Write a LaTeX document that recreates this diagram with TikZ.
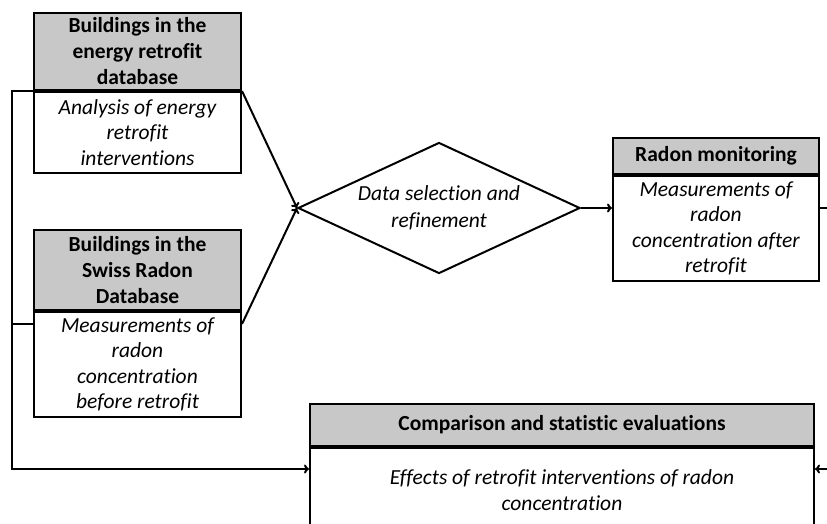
\documentclass[tikz,border=0pt]{standalone}
\usepackage{fontspec}
\setmainfont{Carlito}[Ligatures=NoCommon]
\usetikzlibrary{shapes.geometric,arrows.meta,calc}
\definecolor{hdrgray}{RGB}{200,200,200}
\begin{document}
\begin{tikzpicture}[x=1pt,y=-1pt,
  line width=2pt,
  hdr/.style={draw=black, fill=hdrgray, anchor=north west, inner sep=0pt, align=center,
    font=\bfseries\fontsize{21.5}{26}\selectfont},
  body/.style={draw=black, fill=white, anchor=north, inner sep=0pt, align=center,
    font=\itshape\fontsize{21.5}{25.5}\selectfont},
  decision/.style={draw=black, diamond, shape aspect=2.15, inner sep=0pt, align=center,
    minimum width=282pt, minimum height=131pt, font=\itshape\fontsize{21.5}{27}\selectfont},
  arr/.style={-{To[length=5pt,width=9pt]}},
  conn/.style={line width=2pt}]
\useasboundingbox (0,0) rectangle (827,524);
\clip (0,0) rectangle (827,524);
% box 1
\node[hdr, minimum width=207pt, minimum height=77pt] (h1) at (33,12) {Buildings in the\\energy retrofit\\database};
\node[body, minimum width=207pt, minimum height=81pt] (b1) at (h1.south) {Analysis of energy\\retrofit\\interventions};
% box 2
\node[hdr, minimum width=207pt, minimum height=80pt] (h2) at (33,229) {Buildings in the\\Swiss Radon\\Database};
\node[body, minimum width=207pt, minimum height=105pt] (b2) at (h2.south) {Measurements of\\radon\\concentration\\before retrofit};
% decision
\node[decision] (d) at (439,208) {Data selection and\\refinement};
% radon monitoring
\node[hdr, minimum width=206pt, minimum height=36pt] (h3) at (612,137) {Radon monitoring};
\node[body, minimum width=206pt, minimum height=105pt] (b3) at (h3.south) {Measurements of\\radon\\concentration after\\retrofit};
% comparison
\node[hdr, minimum width=504pt, minimum height=42pt] (h4) at (309,403) {Comparison and statistic evaluations};
\node[body, minimum width=504pt, minimum height=84pt] (b4) at (h4.south) {Effects of retrofit interventions of radon\\concentration};
% coordinates
\coordinate (b2out) at ($(b2.north west)+(0,13)$);
\coordinate (b2outR) at ($(b2.north east)+(0,13)$);
\coordinate (cinL) at ($(b4.north west)+(0,22)$);
\coordinate (cinR) at ($(b4.north east)+(0,22)$);
\coordinate (farR) at (845,208);
% connectors
\draw[conn,arr] (h1.south east) -- (d.west);
\draw[conn,arr] (b2outR) -- (d.west);
\draw[conn,arr] (d.east) -- (b3.west |- d.east);
\draw[conn,arr] (h1.south west) -- ++(-21,0) |- (cinL);
\draw[conn] (b2out) -- (b2out -| 12,0);
\draw[conn,arr] (b3.east |- farR) -- (farR) |- (cinR);
\end{tikzpicture}
\end{document}
